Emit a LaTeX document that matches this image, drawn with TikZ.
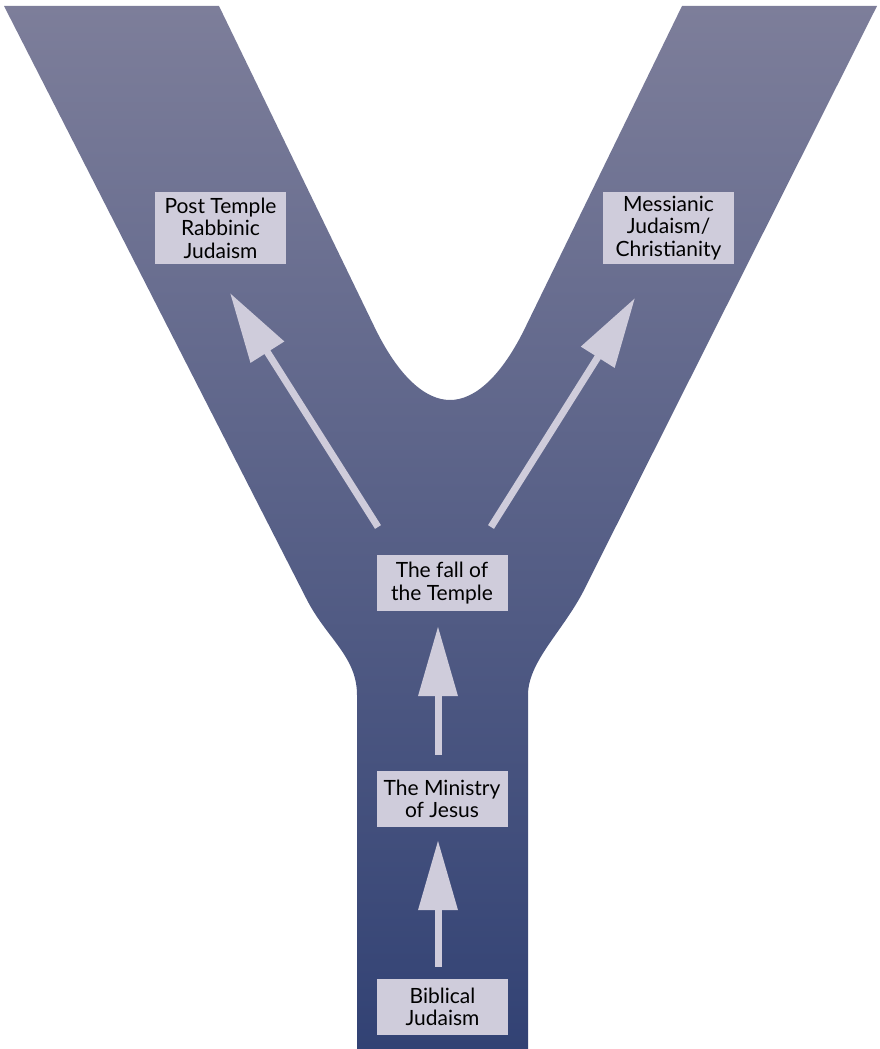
\documentclass[tikz,border=0pt]{standalone}
\usepackage{fontspec}
\setmainfont{Lato}
\usetikzlibrary{arrows.meta}
\definecolor{ytop}{HTML}{7D7E9A}
\definecolor{ybot}{HTML}{324274}
\definecolor{boxfill}{HTML}{CFCCDB}
\begin{document}
\begin{tikzpicture}[x=1pt,y=-1pt,
  stage/.style={fill=boxfill,text=black,align=center,inner sep=0pt,
    minimum width=131pt,font=\fontsize{21}{22.5}\selectfont},
  flow/.style={draw=boxfill,line width=7pt,-{Triangle[length=70pt,width=38pt]}}]
\useasboundingbox (0,0) rectangle (879,1049);
% the Y
\shade[top color=ytop,bottom color=ybot]
  (4,6) -- (306,598) .. controls (326,638) and (357,656) .. (357,695)
  -- (357,1049) -- (528,1049) -- (528,695)
  .. controls (528,662) and (562,632) .. (583,592) -- (877,6)
  -- (682,6) -- (526,326) .. controls (502,376) and (475,400) .. (450,400)
  .. controls (425,400) and (398,376) .. (374,326) -- (219,6) -- cycle;
% stages
\node[stage,minimum height=72pt] (rabbinic) at (220.5,228) {Post Temple\\Rabbinic\\Judaism};
\node[stage,minimum height=72pt] (messianic) at (668.5,228) {Messianic\\Judaism/\\Christianity};
\node[stage,minimum height=56pt] (fall) at (442,583) {The fall of\\the Temple};
\node[stage,minimum height=56pt] (ministry) at (442,799) {The Ministry\\of Jesus};
\node[stage,minimum height=56pt] (biblical) at (442.5,1007) {Biblical\\Judaism};
% arrows
\coordinate (lefttail) at (378,527);
\coordinate (lefttip) at (230,293);
\coordinate (righttail) at (491,527);
\coordinate (righttip) at (635,298);
\draw[flow] ([xshift=-4.5pt,yshift=12pt]biblical.north) -- ([xshift=-4pt,yshift=-13pt]ministry.south);
\draw[flow] ([xshift=-4pt,yshift=16pt]ministry.north) -- ([xshift=-4pt,yshift=-15pt]fall.south);
\draw[flow] (lefttail) -- (lefttip);
\draw[flow] (righttail) -- (righttip);
\end{tikzpicture}
\end{document}
